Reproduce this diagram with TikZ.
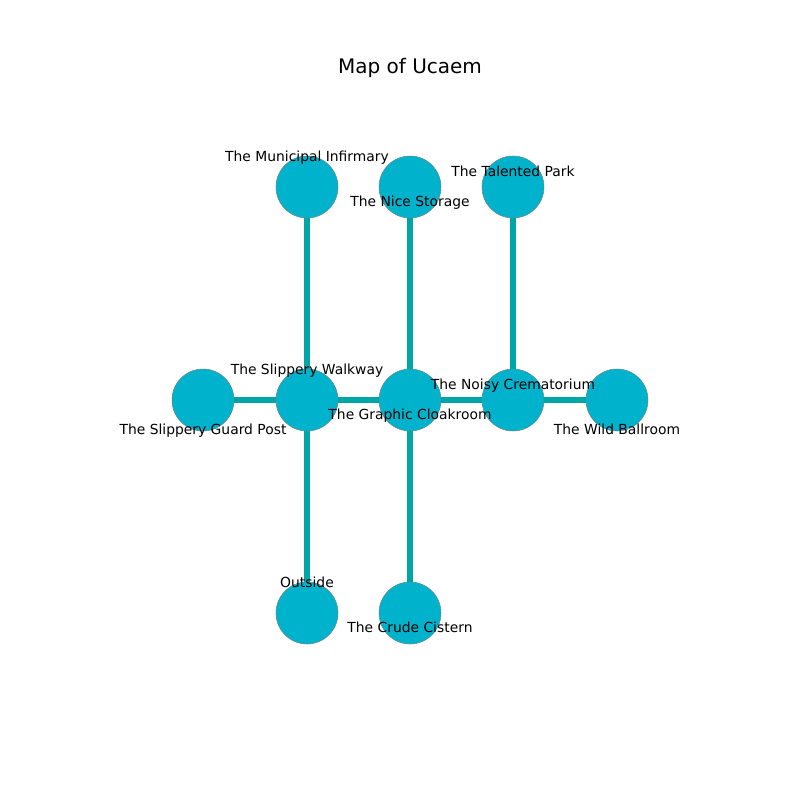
\documentclass[tikz,border=0pt]{standalone}
\usepackage{fontspec}
\setmainfont{DejaVu Sans}
\definecolor{roomfill}{HTML}{00B2CB}
\definecolor{roomedge}{HTML}{6A8A90}
\definecolor{pathcol}{HTML}{00A6A6}
\tikzset{
  room/.style={
    circle, draw=roomedge, fill=roomfill, line width=0.4pt,
    minimum size=46.5pt, inner sep=0pt
  },
  roomlabel/.style={font=\fontsize{10.4}{12}\selectfont, inner sep=0pt,
    text depth=0pt},
  passage/.style={draw=pathcol, line width=3.8pt}
}

\begin{document}
\begin{tikzpicture}[x=0.75pt, y=-0.75pt]
  \useasboundingbox (0,0) rectangle (800,800);

  % Title
  \node[font=\fontsize{15}{18}\selectfont] (title) at (410,68) {Map of Ucaem};

  % Rooms
  \node[room] (infirmary) at (307,187) {};
  \node[room] (storage) at (410,187) {};
  \node[room] (park) at (513,187) {};
  \node[room] (guard) at (203,400) {};
  \node[room] (walkway) at (307,400) {};
  \node[room] (cloak) at (410,400) {};
  \node[room] (cremat) at (513,400) {};
  \node[room] (ballroom) at (617,400) {};
  \node[room] (outside) at (307,613) {};
  \node[room] (cistern) at (410,613) {};

  % Passages
  \draw[passage] (infirmary) -- (walkway);
  \draw[passage] (storage) -- (cloak);
  \draw[passage] (park) -- (cremat);
  \draw[passage] (guard) -- (walkway);
  \draw[passage] (walkway) -- (cloak);
  \draw[passage] (cloak) -- (cremat);
  \draw[passage] (cremat) -- (ballroom);
  \draw[passage] (walkway) -- (outside);
  \draw[passage] (cloak) -- (cistern);

  % Labels
  \node[roomlabel] (l-infirmary) at (307,156) {The Municipal Infirmary};
  \node[roomlabel] (l-storage) at (410,201) {The Nice Storage};
  \node[roomlabel] (l-park) at (513,171) {The Talented Park};
  \node[roomlabel] (l-guard) at (203,429) {The Slippery Guard Post};
  \node[roomlabel] (l-walkway) at (307,369) {The Slippery Walkway};
  \node[roomlabel] (l-cloak) at (410,414) {The Graphic Cloakroom};
  \node[roomlabel] (l-cremat) at (513,384) {The Noisy Crematorium};
  \node[roomlabel] (l-ballroom) at (617,429) {The Wild Ballroom};
  \node[roomlabel] (l-outside) at (307,582) {Outside};
  \node[roomlabel] (l-cistern) at (410,627) {The Crude Cistern};

\end{tikzpicture}
\end{document}
